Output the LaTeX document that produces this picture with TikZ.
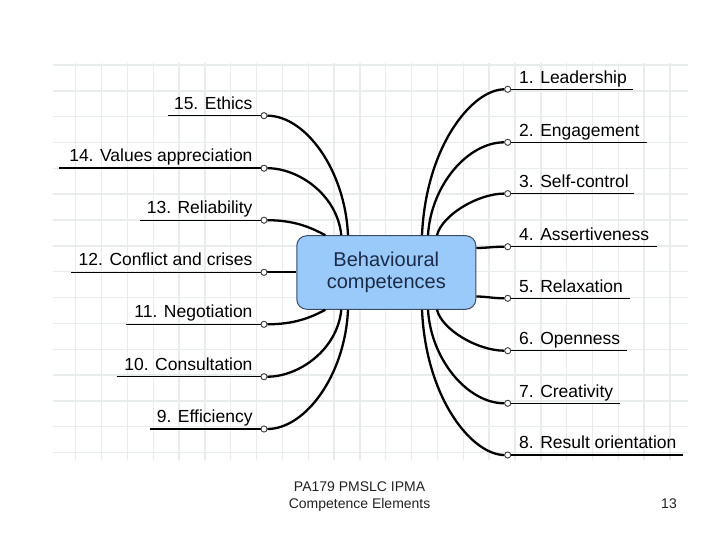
\documentclass[tikz,border=0pt]{standalone}
\usepackage{fontspec}
\setmainfont{Liberation Sans}
\definecolor{gridc}{HTML}{E8ECEC}
\definecolor{boxfill}{HTML}{99CAF9}
\definecolor{boxline}{HTML}{3C4C64}
\definecolor{boxtext}{HTML}{1B2B48}
\definecolor{footc}{HTML}{222222}
\begin{document}
\begin{tikzpicture}[x=1pt,y=-1pt,
  lbl/.style={inner sep=0pt, font=\fontsize{17.5}{20}\selectfont},
  dot/.style={circle, draw=black!75, fill=white, line width=0.8pt, minimum size=6pt, inner sep=0pt},
  uline/.style={line width=1.3pt, black},
  conn/.style={line width=2.3pt, black},
  centre/.style={draw=boxline, fill=boxfill, line width=1pt, rounded corners=10pt,
    minimum width=179pt, minimum height=73.6pt, inner sep=0pt, align=center,
    text=boxtext, font=\fontsize{20}{22.3}\selectfont},
  foot/.style={inner sep=0pt, text=footc, font=\fontsize{14}{16.7}\selectfont}]
\useasboundingbox (0,0) rectangle (720,540);
% grid
\foreach \k in {0,...,23} {\draw[gridc, line width=1.4pt] ({75.7+25.84*\k},63) -- ({75.7+25.84*\k},460);}
\foreach \k in {0,...,15} {\draw[gridc, line width=1.4pt] (53,{65+25.84*\k}) -- (688,{65+25.84*\k});}

% central box
\node[centre] (box) at (386.3,272.5) {Behavioural\\competences};

% left circles
\node[dot] (c15) at (264,115.7) {};
\node[dot] (c14) at (264,168.2) {};
\node[dot] (c13) at (264,220.2) {};
\node[dot] (c12) at (264,272.3) {};
\node[dot] (c11) at (264,324.3) {};
\node[dot] (c10) at (264,376.7) {};
\node[dot] (c9) at (264,429) {};
% right circles
\node[dot] (c1) at (507.7,89.3) {};
\node[dot] (c2) at (507.7,142.3) {};
\node[dot] (c3) at (507.7,193.6) {};
\node[dot] (c4) at (507.7,246.7) {};
\node[dot] (c5) at (507.7,298.3) {};
\node[dot] (c6) at (507.7,350.7) {};
\node[dot] (c7) at (507.7,403.3) {};
\node[dot] (c8) at (507.7,455) {};

% underline free ends
\coordinate (e15) at (168,115.7);
\coordinate (e14) at (59,168.2);
\coordinate (e13) at (140,220.2);
\coordinate (e12) at (71,272.3);
\coordinate (e11) at (126,324.3);
\coordinate (e10) at (116.7,376.7);
\coordinate (e9) at (150,429);
\coordinate (e1) at (633,89.3);
\coordinate (e2) at (646.7,142.3);
\coordinate (e3) at (634,193.6);
\coordinate (e4) at (656.7,246.7);
\coordinate (e5) at (630,298.3);
\coordinate (e6) at (626.7,350.7);
\coordinate (e7) at (620,403.3);
\coordinate (e8) at (683.3,455);

\draw[uline] (e15) -- (c15);
\draw[uline, line width=2.2pt] (e14) -- (c14);
\draw[uline] (e13) -- (c13);
\draw[uline] (e12) -- (c12);
\draw[uline] (e11) -- (c11);
\draw[uline] (e10) -- (c10);
\draw[uline] (e9) -- (c9);
\draw[uline] (c1) -- (e1);
\draw[uline] (c2) -- (e2);
\draw[uline] (c3) -- (e3);
\draw[uline] (c4) -- (e4);
\draw[uline] (c5) -- (e5);
\draw[uline] (c6) -- (e6);
\draw[uline] (c7) -- (e7);
\draw[uline] (c8) -- (e8);

% labels
\node[lbl, anchor=base east] (t15) at (252.7,109.2) {15. Ethics};
\node[lbl, anchor=base east] (t14) at (252.7,161.7) {14. Values appreciation};
\node[lbl, anchor=base east] (t13) at (252.7,213.7) {13. Reliability};
\node[lbl, anchor=base east] (t12) at (252.7,265.8) {12. Conflict and crises};
\node[lbl, anchor=base east] (t11) at (252.7,317.8) {11. Negotiation};
\node[lbl, anchor=base east] (t10) at (252.7,370.2) {10. Consultation};
\node[lbl, anchor=base east] (t9) at (252.7,422.5) {9. Efficiency};
\node[lbl, anchor=base west] (t1) at (519,83.1) {1. Leadership};
\node[lbl, anchor=base west] (t2) at (519,136.1) {2. Engagement};
\node[lbl, anchor=base west] (t3) at (519,187.4) {3. Self-control};
\node[lbl, anchor=base west] (t4) at (519,240.5) {4. Assertiveness};
\node[lbl, anchor=base west] (t5) at (519,292.1) {5. Relaxation};
\node[lbl, anchor=base west] (t6) at (519,344.5) {6. Openness};
\node[lbl, anchor=base west] (t7) at (519,397.1) {7. Creativity};
\node[lbl, anchor=base west] (t8) at (519,448.8) {8. Result orientation};

% connectors
\draw[conn] (c15) .. controls +(41,0) and +(-3,-66) .. ([xshift=-38.3pt]box.north);
\draw[conn] (c14) .. controls +(35,0) and +(-4,-40) .. ([xshift=-45pt]box.north);
\draw[conn] (c13) .. controls +(30,0) and +(-15,-8) .. ([xshift=-61pt]box.north);
\draw[conn] (c12) -- (box.west |- c12);
\draw[conn] (c11) .. controls +(30,0) and +(-15,8) .. ([xshift=-61pt]box.south);
\draw[conn] (c10) .. controls +(35,0) and +(-4,40) .. ([xshift=-45pt]box.south);
\draw[conn] (c9) .. controls +(41,0) and +(-3,66) .. ([xshift=-38.3pt]box.south);
\draw[conn] (c1) .. controls +(-35,0) and +(4,-90) .. ([xshift=35.7pt]box.north);
\draw[conn] (c2) .. controls +(-40,0) and +(3,-50) .. ([xshift=41.7pt]box.north);
\draw[conn] (c3) .. controls +(-30,0) and +(5,-20) .. ([xshift=50.7pt]box.north);
\draw[conn] (c4) .. controls +(-15,0) and +(10,0) .. (box.east |- 0,248);
\draw[conn] (c5) .. controls +(-15,0) and +(10,0) .. (box.east |- 0,296.5);
\draw[conn] (c6) .. controls +(-30,0) and +(5,20) .. ([xshift=50.7pt]box.south);
\draw[conn] (c7) .. controls +(-40,0) and +(3,50) .. ([xshift=41.7pt]box.south);
\draw[conn] (c8) .. controls +(-35,0) and +(4,90) .. ([xshift=35.7pt]box.south);
% redraw dots on top of connectors
\foreach \n in {c1,c2,c3,c4,c5,c6,c7,c8,c9,c10,c11,c12,c13,c14,c15} {\node[dot] at (\n) {};}

% footer
\node[foot, align=center, anchor=base] (f1) at (359.6,508.3) {PA179 PMSLC IPMA\\Competence Elements};
\node[foot, anchor=base east] (pg) at (677,508.3) {13};
\end{tikzpicture}
\end{document}
